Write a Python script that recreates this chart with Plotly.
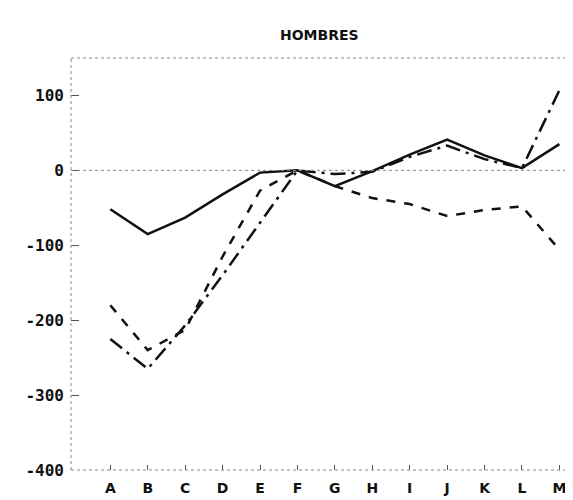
import plotly.graph_objects as go

categories = ["A", "B", "C", "D", "E", "F", "G", "H", "I", "J", "K", "L", "M"]
serie_continua = [-52, -85, -63, -32, -3, 0, -21, -1, 21, 41, 20, 3, 35]
serie_raya_punto = [-225, -265, -207, -140, -70, 0, -5, -2, 18, 33, 15, 3, 107]
serie_rayas = [-180, -240, -213, -115, -27, 0, -21, -37, -45, -61, -53, -48, -106]
y_ticks = [100, 0, -100, -200, -300, -400]
y_tick_labels = ["100", "0", "-100", "-200", "-300", "-400"]

ink = "#111111"
fig = go.Figure()
fig.add_trace(go.Scatter(x=categories, y=serie_continua, mode="lines",
                         line=dict(color=ink, width=2.5), showlegend=False))
fig.add_trace(go.Scatter(x=categories, y=serie_raya_punto, mode="lines",
                         line=dict(color=ink, width=2.5, dash="longdashdot"), showlegend=False))
fig.add_trace(go.Scatter(x=categories, y=serie_rayas, mode="lines",
                         line=dict(color=ink, width=2.5, dash="dash"), showlegend=False))

dot = dict(color="#888888", width=1, dash="dot")
shapes = [
    dict(type="line", xref="paper", yref="y", x0=0, x1=1, y0=0, y1=0, line=dot),
    dict(type="line", xref="paper", yref="paper", x0=0, x1=1, y0=1, y1=1, line=dot),
    dict(type="line", xref="paper", yref="paper", x0=0, x1=1, y0=0, y1=0, line=dot),
    dict(type="line", xref="paper", yref="paper", x0=0, x1=0, y0=0, y1=1, line=dot),
]

fig.update_layout(
    width=573, height=500,
    margin=dict(l=63, r=1, t=50, b=38),
    paper_bgcolor="white", plot_bgcolor="white",
    shapes=shapes,
    annotations=[dict(text="<b>HOMBRES</b>", xref="paper", yref="paper",
                      x=(311 - 63) / 509, y=1, yshift=33, showarrow=False,
                      font=dict(family="DejaVu Sans", size=14, color=ink))],
    xaxis=dict(type="category", range=[-1.05, 12.55], showgrid=False, zeroline=False,
               showline=False, ticks="inside", ticklen=5, tickcolor="#555555", tickwidth=1,
               tickfont=dict(family="DejaVu Sans", size=14, color=ink, weight="bold"),
               ticklabelstandoff=8),
    yaxis=dict(range=[-400, 150], showgrid=False, zeroline=False, showline=False,
               tickvals=y_ticks, ticktext=y_tick_labels,
               ticks="inside", ticklen=8, tickcolor="#555555", tickwidth=1,
               tickfont=dict(family="DejaVu Sans Mono", size=16, color=ink, weight="bold"),
               ticklabelstandoff=6),
)

fig.write_html("out.html")
